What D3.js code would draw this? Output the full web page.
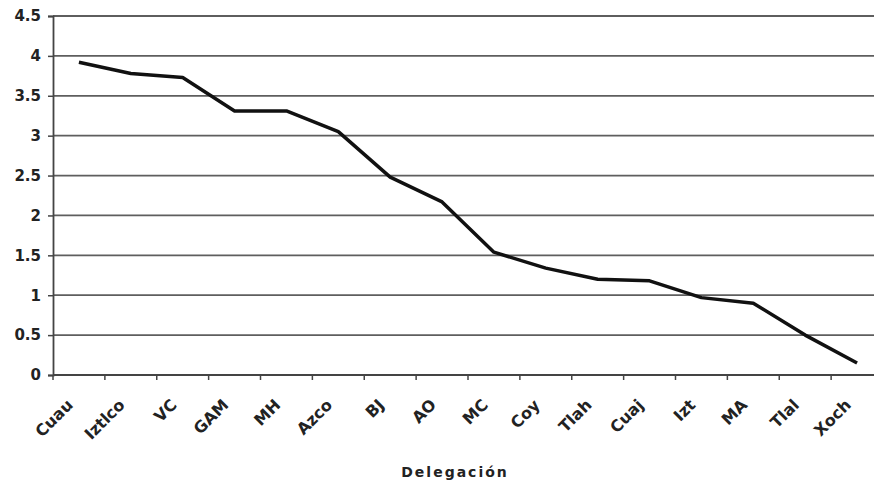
<!DOCTYPE html>
<html>
<head>
<meta charset="utf-8">
<script src="https://cdn.jsdelivr.net/npm/d3@7"></script>
<style>
  body { margin: 0; background: #fff; }
  svg { display: block; }
  text { font-family: "DejaVu Sans", "Liberation Sans", Arial, sans-serif; font-weight: bold; fill: #222; }
</style>
</head>
<body>
<script>
// delegaciones del DF
var delegaciones = ['Cuau', 'Iztlco', 'VC', 'GAM', 'MH', 'Azco', 'BJ', 'AO',
                    'MC', 'Coy', 'Tlah', 'Cuaj', 'Izt', 'MA', 'Tlal', 'Xoch'];
var valores = [3.92, 3.78, 3.73, 3.31, 3.31, 3.05, 2.48, 2.17,
               1.54, 1.34, 1.20, 1.18, 0.97, 0.90, 0.50, 0.15];
var yTicks = [0, 0.5, 1, 1.5, 2, 2.5, 3, 3.5, 4, 4.5];
var xTitle = 'Delegación';

var W = 874, H = 484;
var margin = {top: 16, right: -9, bottom: 109, left: 53};
var width = W - margin.left - margin.right;
var height = H - margin.top - margin.bottom;

var svg = d3.select('body').append('svg')
    .attr('width', W)
    .attr('height', H);

var g = svg.append('g')
    .attr('transform', 'translate(' + margin.left + ',' + margin.top + ')');

var x = d3.scaleBand()
    .domain(delegaciones)
    .range([0, width]);

var y = d3.scaleLinear()
    .domain([0, 4.5])
    .range([height, 0]);

// gridlines
g.append('g')
    .selectAll('line')
    .data(yTicks.filter(function (d) { return d > 0; }))
    .enter().append('line')
    .attr('x1', 0)
    .attr('x2', width)
    .attr('y1', function (d) { return y(d); })
    .attr('y2', function (d) { return y(d); })
    .attr('stroke', '#5e5e5e')
    .attr('stroke-width', 1.8);

// y axis
var yAxis = g.append('g')
    .call(d3.axisLeft(y).tickValues(yTicks).tickSize(5).tickPadding(7)
      .tickFormat(function (d) { return String(d); }));
yAxis.select('.domain').attr('stroke', '#444').attr('stroke-width', 1.8);
yAxis.selectAll('.tick line').attr('stroke', '#444').attr('stroke-width', 1.5);
yAxis.selectAll('text').style('font-size', '15px').attr('fill', '#222');

// x axis, ticks between categories
var xAxis = g.append('g')
    .attr('transform', 'translate(0,' + height + ')');
xAxis.append('line')
    .attr('x1', 0).attr('x2', width)
    .attr('stroke', '#444').attr('stroke-width', 1.8);
xAxis.selectAll('line.tk')
    .data(delegaciones)
    .enter().append('line')
    .attr('class', 'tk')
    .attr('x1', function (d) { return x(d); })
    .attr('x2', function (d) { return x(d); })
    .attr('y1', 0).attr('y2', 5)
    .attr('stroke', '#444').attr('stroke-width', 1.5);
xAxis.selectAll('text')
    .data(delegaciones)
    .enter().append('text')
    .attr('transform', function (d) {
      return 'translate(' + (x(d) + x.bandwidth() / 2 - 5) + ',31) rotate(-45)';
    })
    .attr('text-anchor', 'end')
    .style('font-size', '16px')
    .text(function (d) { return d; });

// the line
var line = d3.line()
    .x(function (d, i) { return x(delegaciones[i]) + x.bandwidth() / 2; })
    .y(function (d) { return y(d); });

g.append('path')
    .datum(valores)
    .attr('d', line)
    .attr('fill', 'none')
    .attr('stroke', '#111')
    .attr('stroke-width', 3.5)
    .attr('stroke-linejoin', 'round');

svg.append('text')
    .attr('x', 455)
    .attr('y', 477)
    .attr('text-anchor', 'middle')
    .style('font-size', '14px')
    .style('letter-spacing', '2px')
    .text(xTitle);
</script>
</body>
</html>
